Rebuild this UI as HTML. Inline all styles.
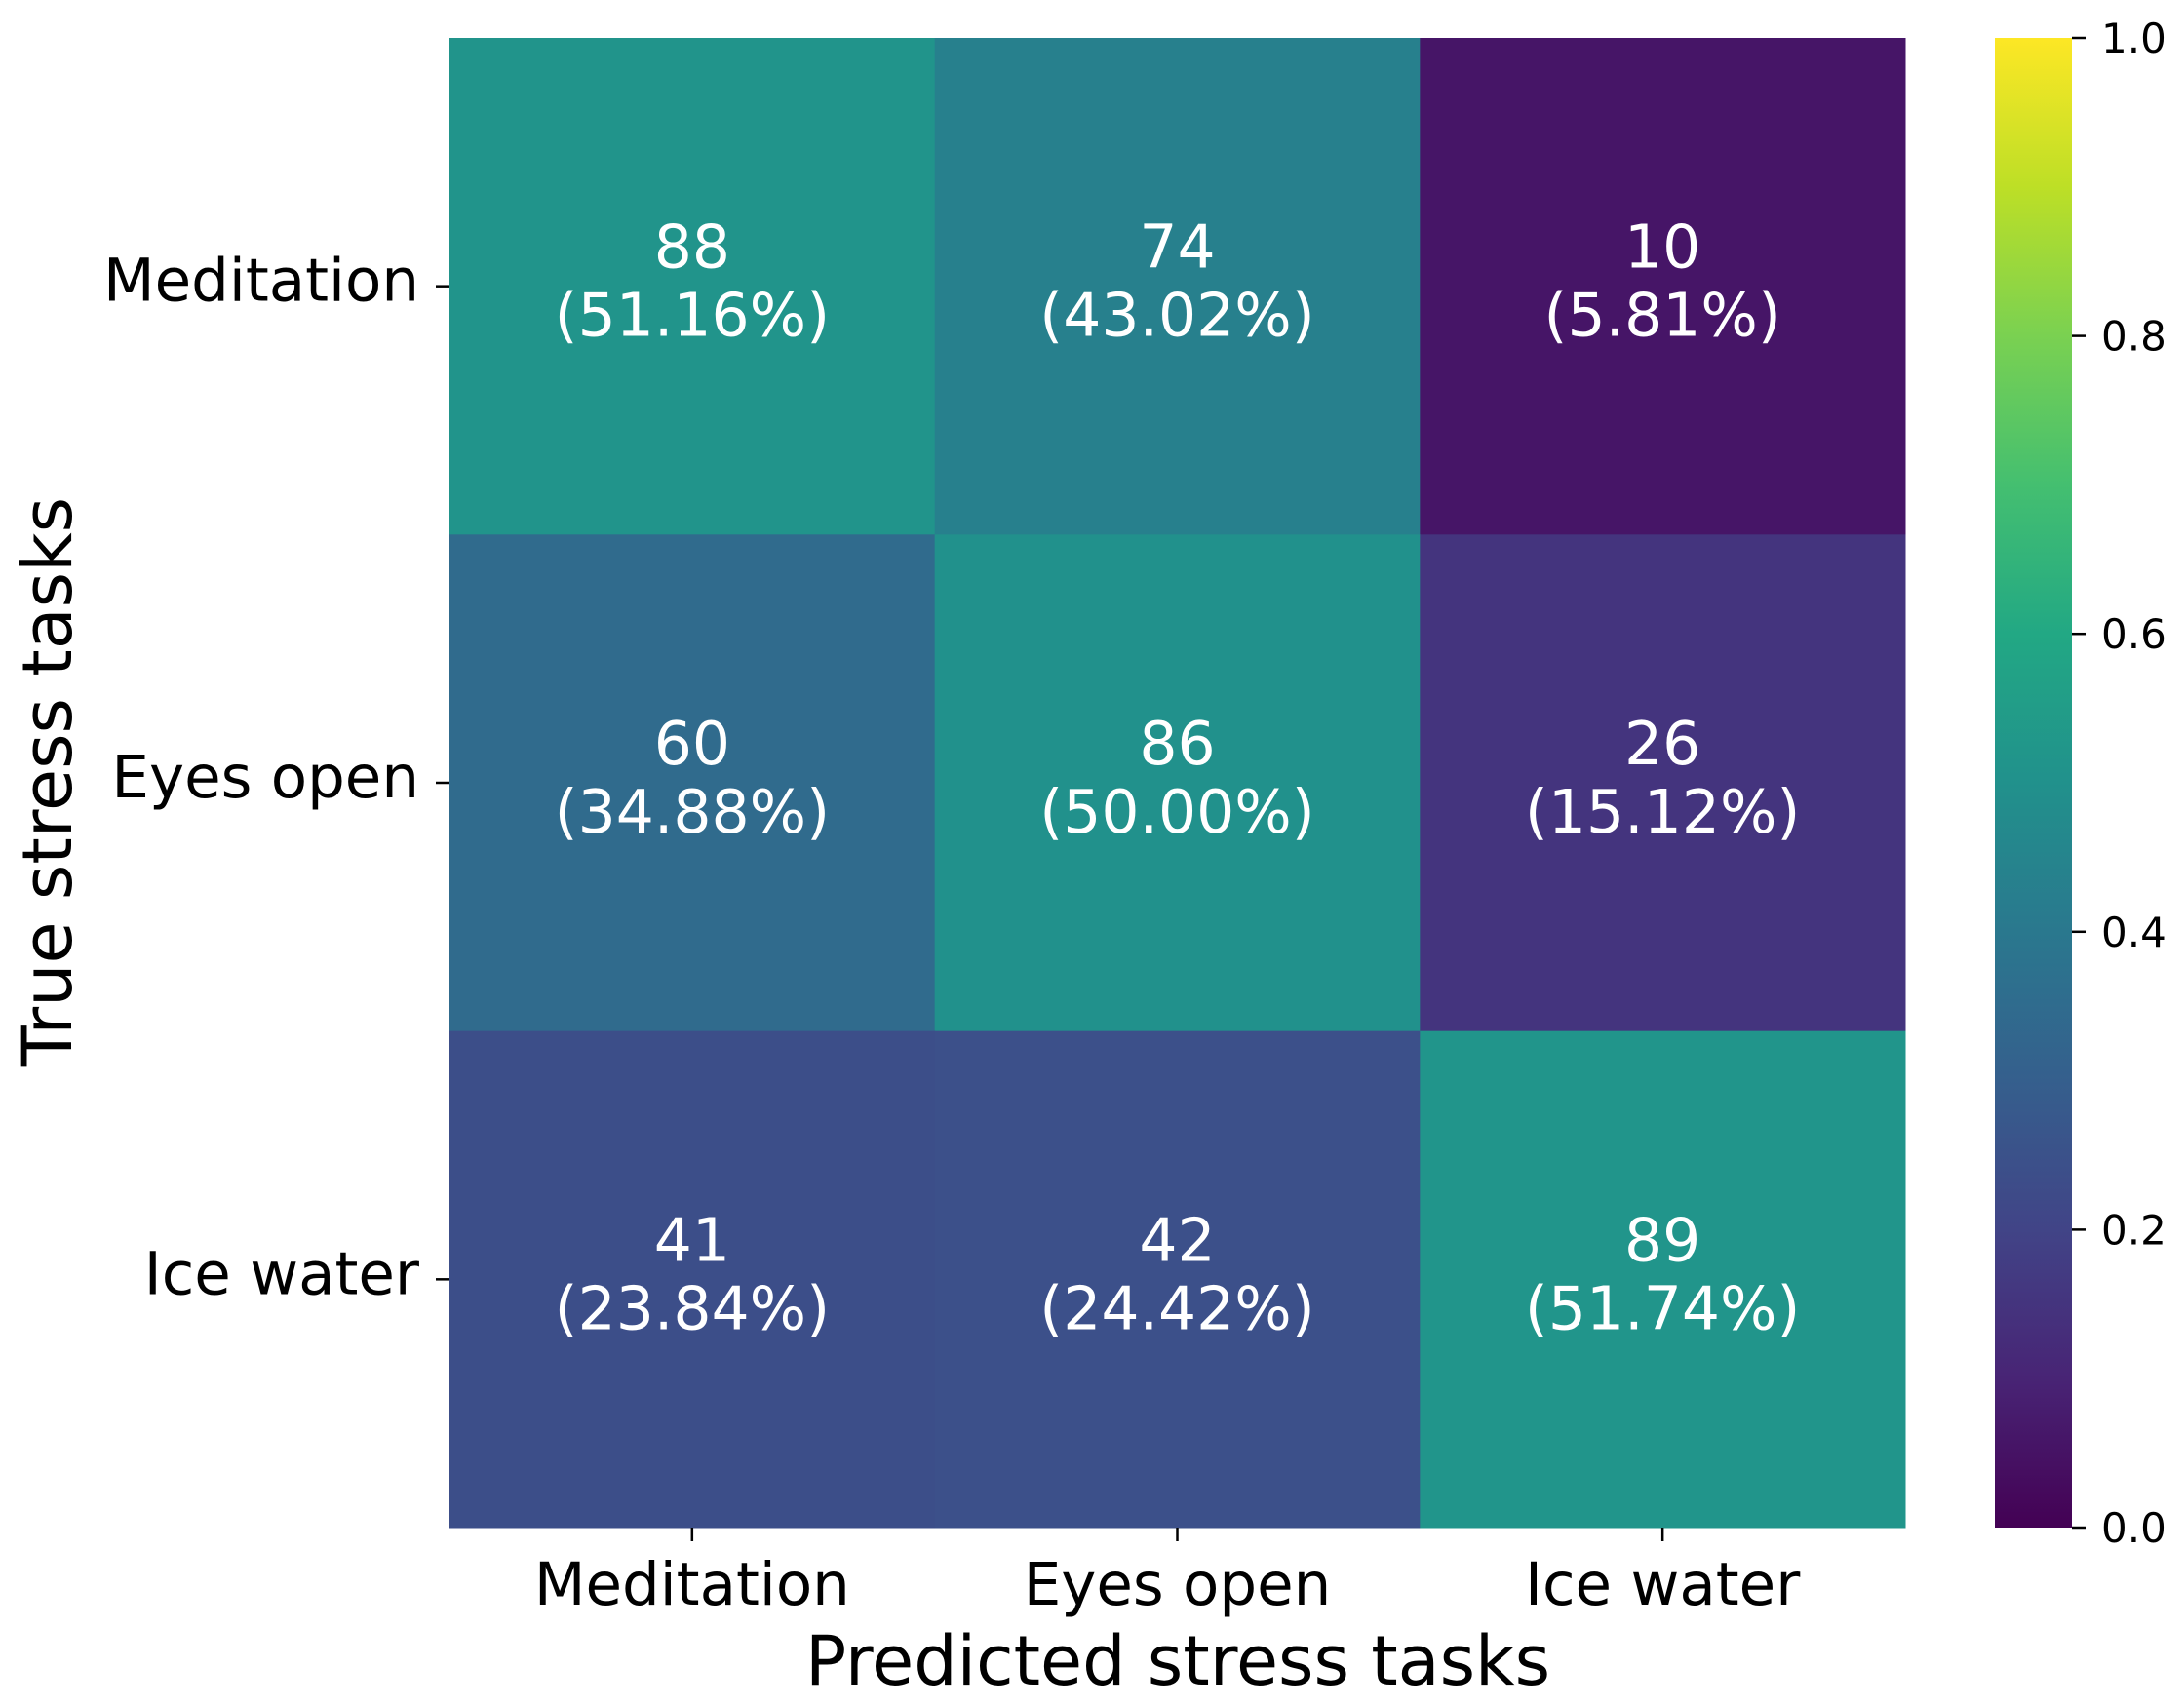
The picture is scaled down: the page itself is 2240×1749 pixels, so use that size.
<!DOCTYPE html>
<html><head><meta charset="utf-8"><style>
html,body{margin:0;padding:0;background:#fff;}
svg{display:block;font-family:"DejaVu Sans","Liberation Sans",sans-serif;}
</style></head><body>
<svg id="chart" width="2240" height="1749" viewBox="0 0 2240 1749" xmlns="http://www.w3.org/2000/svg">
<defs><linearGradient id="vir" x1="0" y1="1" x2="0" y2="0"></linearGradient></defs>
<g id="cells"></g>
<g id="annots"></g>
<g id="xaxis"></g>
<g id="yaxis"></g>
<text x="1208" y="1728" font-size="70" text-anchor="middle">Predicted stress tasks</text>
<text transform="translate(73,802) rotate(-90)" font-size="70" text-anchor="middle">True stress tasks</text>
<rect x="2046" y="39" width="79" height="1528" fill="url(#vir)"/>
<g id="cbar"></g>
</svg>
<script>
const categories = ["Meditation", "Eyes open", "Ice water"];
const rowMeditation = [88, 74, 10];
const rowEyesOpen = [60, 86, 26];
const rowIceWater = [41, 42, 89];
const colorbarTicks = [0.0, 0.2, 0.4, 0.6, 0.8, 1.0];
const colorbarTickLabels = ["0.0", "0.2", "0.4", "0.6", "0.8", "1.0"];

const counts = [rowMeditation, rowEyesOpen, rowIceWater];
const VIR = ["#440154","#482475","#414487","#355f8d","#2a788e","#21918c","#22a884","#44bf70","#7ad151","#bddf26","#fde725"];
function hex(h){return [1,3,5].map(i=>parseInt(h.substr(i,2),16));}
function viridis(t){t=Math.max(0,Math.min(1,t));const p=t*10,i=Math.min(9,Math.floor(p)),f=p-i;
 const a=hex(VIR[i]),b=hex(VIR[i+1]);return "rgb("+a.map((v,k)=>Math.round(v+(b[k]-v)*f)).join(",")+")";}
const NS="http://www.w3.org/2000/svg";
const X0=461,X1=1954,Y0=39,Y1=1567;
const n=categories.length, cw=(X1-X0)/n, ch=(Y1-Y0)/n;
const xPos=j=>X0+j*cw, yPos=i=>Y0+i*ch;
const cbY=v=>Y1-(Y1-Y0)*v;
function mk(tag,attrs,parent){const e=document.createElementNS(NS,tag);for(const k in attrs)e.setAttribute(k,attrs[k]);parent.appendChild(e);return e;}
const grad=document.getElementById('vir');
VIR.forEach((c,k)=>mk('stop',{offset:(k*10)+'%','stop-color':c},grad));
const gC=document.getElementById('cells'),gA=document.getElementById('annots'),gX=document.getElementById('xaxis'),gY=document.getElementById('yaxis'),gB=document.getElementById('cbar');
counts.forEach((row,i)=>{
 const tot=row.reduce((a,b)=>a+b,0);
 row.forEach((v,j)=>{
  const frac=v/tot;
  const r=mk('rect',{x:xPos(j),y:yPos(i),width:cw+0.5,height:ch+0.5,fill:viridis(frac)},gC);
  
  
  const cx=xPos(j)+cw/2, cy=yPos(i)+ch/2;
  const t1=mk('text',{x:cx,y:cy-19,'font-size':61.5,fill:'#fff','text-anchor':'middle'},gA);
  t1.textContent=v;
  
  
  const t2=mk('text',{x:cx,y:cy+51,'font-size':61.5,fill:'#fff','text-anchor':'middle'},gA);
  t2.textContent='('+(frac*100).toFixed(2)+'%)';
  
  
 });
});
categories.forEach((c,j)=>{
 const cx=xPos(j)+cw/2;
 const tk=mk('line',{x1:cx,x2:cx,y1:Y1,y2:Y1+14,stroke:'#000','stroke-width':2.5},gX);
 
 
 const t=mk('text',{x:cx,y:1646,'font-size':61,'text-anchor':'middle'},gX);
 t.textContent=c;
 
 
 const cy=yPos(j)+ch/2;
 const tk2=mk('line',{x1:X0-14,x2:X0,y1:cy,y2:cy,stroke:'#000','stroke-width':2.5},gY);
 
 
 const t2=mk('text',{x:430,y:cy+15,'font-size':61,'text-anchor':'end'},gY);
 t2.textContent=c;
 
 
});
colorbarTicks.forEach((v,k)=>{
 const y=cbY(v);
 const tk=mk('line',{x1:2125,x2:2139,y1:y,y2:y,stroke:'#000','stroke-width':2.5},gB);
 
 
 const t=mk('text',{x:2155,y:y+15,'font-size':42},gB);
 t.textContent=colorbarTickLabels[k];
 
 
});
</script>
</body></html>
